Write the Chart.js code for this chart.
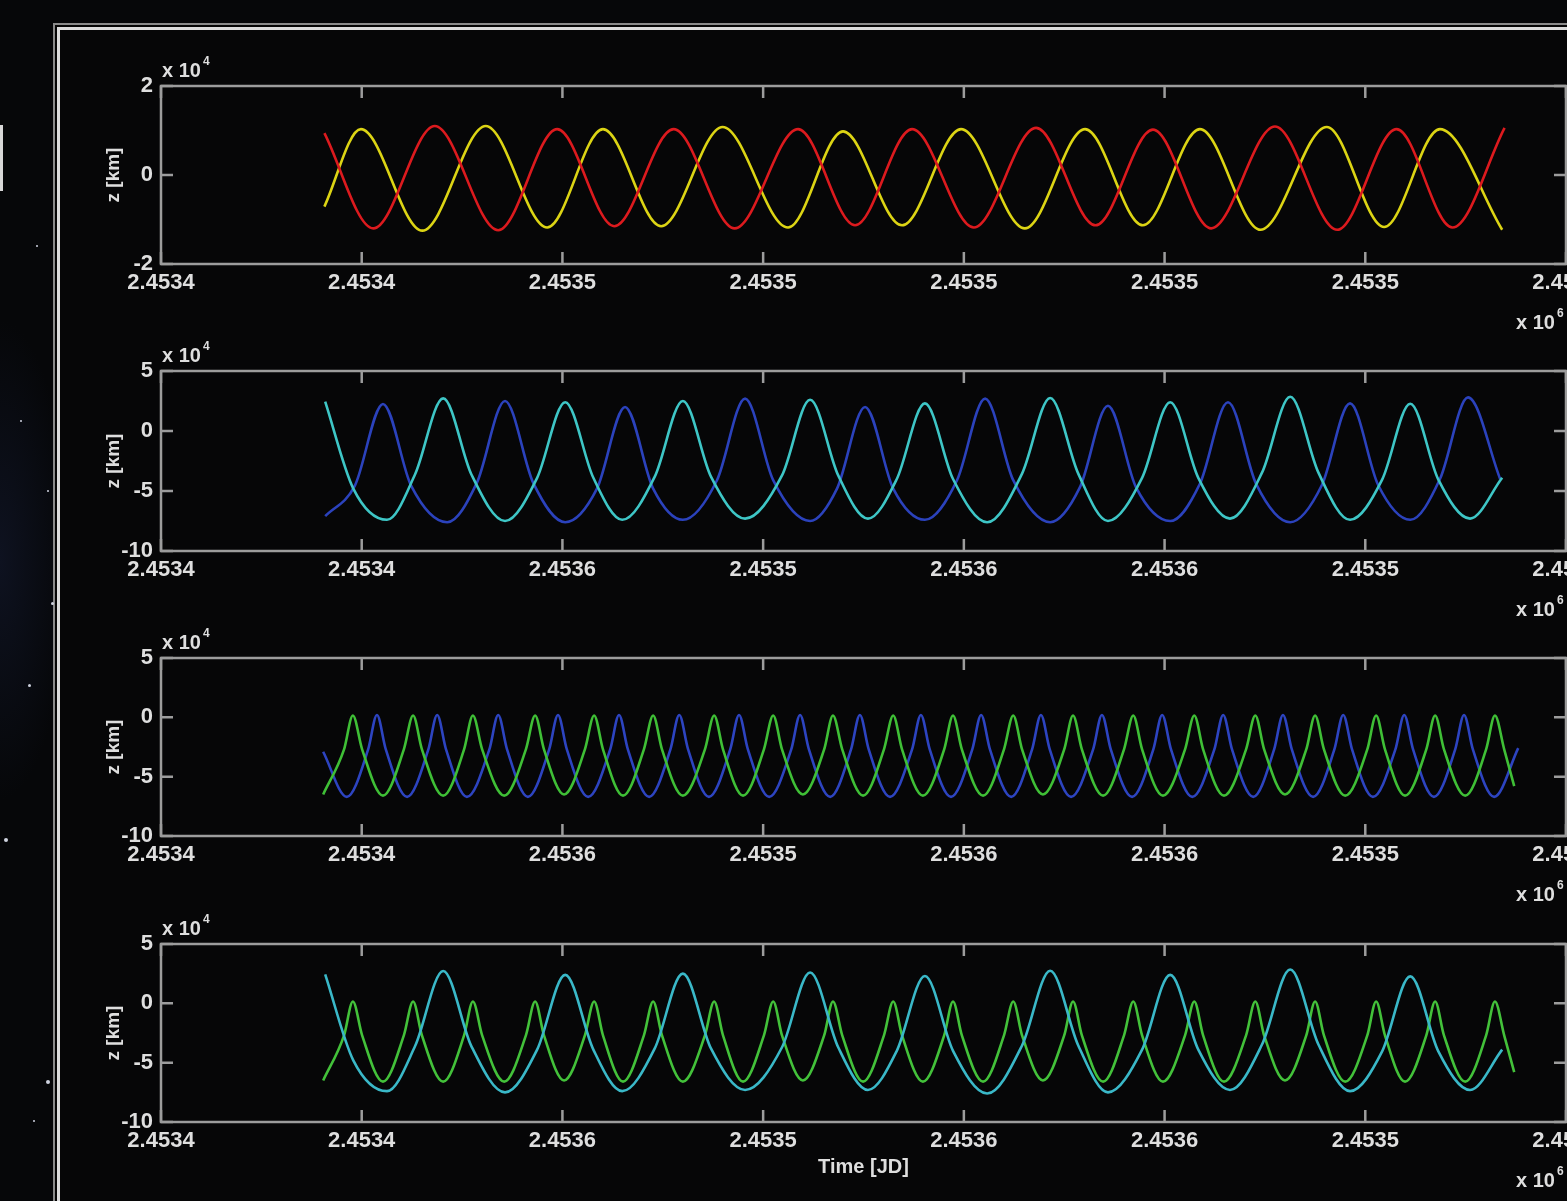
<!DOCTYPE html>
<html>
<head>
<meta charset="utf-8">
<script src="https://cdn.jsdelivr.net/npm/chart.js@4.4.0/dist/chart.umd.min.js"></script>
<style>
html, body { margin: 0; padding: 0; }
body {
    width: 1567px; height: 1201px; overflow: hidden; position: relative;
    background: radial-gradient(ellipse 70px 240px at 0px 560px, #0e1220 0%, #060709 100%);
    background-color: #060709;
    font-family: 'Liberation Sans', Arial, sans-serif;
}
.frame {
    position: absolute; left: 57px; top: 27px; width: 1620px; height: 1300px;
    border: 3px solid #dcdcdc; box-shadow: 0 0 0 2px #050505, 0 0 0 4px #8a8a8a;
    background: #060607;
}
.plot { position: absolute; left: 0; width: 1660px; }
.star { position: absolute; background: #cfd3e0; border-radius: 50%; }
.bar { position: absolute; left: 0; top: 125px; width: 3px; height: 66px; background: #d8d8d8; }
</style>
</head>
<body>
<div class="frame"></div>
<div class="bar"></div>
<div class="star" style="left:36px;top:245px;width:2px;height:2px"></div>
<div class="star" style="left:20px;top:420px;width:2px;height:2px"></div>
<div class="star" style="left:47px;top:490px;width:2px;height:2px"></div>
<div class="star" style="left:51px;top:602px;width:3px;height:3px"></div>
<div class="star" style="left:28px;top:684px;width:3px;height:3px"></div>
<div class="star" style="left:4px;top:838px;width:4px;height:4px"></div>
<div class="star" style="left:46px;top:1080px;width:4px;height:4px"></div>
<div class="star" style="left:33px;top:1120px;width:2px;height:2px"></div>

<script>
// Time axis: days after JD0
const JD0 = 2453400;
const xLabelsTop = ['2.4534', '2.4534', '2.4535', '2.4535', '2.4535', '2.4535', '2.4535', '2.4535'];
const xLabelsLow = ['2.4534', '2.4534', '2.4536', '2.4535', '2.4536', '2.4536', '2.4535', '2.4536'];

// Panel 1: red / yellow
const redT = [40.7, 52.9, 68.2, 84.0, 98.7, 112.9, 127.7, 142.9, 158.7, 172.9, 187.1, 202.5, 218.0, 232.8, 247.1, 261.6, 277.5, 293.0, 307.8, 321.7, 334.7];
const redZ = [9400, -12000, 11000, -12400, 10300, -11500, 10300, -12000, 10300, -11300, 10300, -11800, 10600, -11300, 10200, -12000, 10900, -12300, 10300, -11800, 10600];
const yellowT = [40.7, 49.8, 65.1, 80.9, 96.2, 110.1, 124.6, 139.9, 156.2, 169.9, 184.6, 199.3, 215.2, 230.2, 244.6, 258.8, 273.9, 290.4, 304.7, 318.6, 334.1];
const yellowZ = [-7100, 10300, -12500, 11000, -11800, 10300, -11500, 10800, -11800, 9800, -11300, 10300, -12000, 10300, -11300, 10300, -12300, 10800, -11700, 10300, -12300];

// Panel 2 (and 4): cyan / blue
const cyanT = [40.9, 47.9, 56.3, 63.3, 70.3, 77.3, 85.7, 93.7, 100.7, 107.7, 114.9, 123.0, 130.0, 137.0, 145.5, 154.7, 161.7, 168.7, 176.1, 183.3, 190.3, 197.3, 205.8, 214.5, 221.5, 228.5, 235.9, 244.4, 251.4, 258.4, 266.3, 274.3, 281.3, 288.3, 296.2, 304.2, 311.2, 318.2, 326.1, 334.1];
const cyanZ = [24400, -48000, -74000, -36000, 27200, -36000, -75000, -39000, 24000, -39000, -74000, -38000, 25000, -38000, -73000, -37000, 26000, -37000, -73000, -40000, 23000, -40000, -76000, -35500, 27500, -35500, -75000, -39000, 24000, -39000, -73000, -34500, 28500, -34500, -74000, -40500, 22700, -40500, -73000, -39000];
const blue2T = [40.9, 48.3, 55.3, 62.3, 71.3, 78.7, 85.7, 92.7, 100.7, 108.6, 115.6, 122.6, 130.0, 138.5, 145.5, 152.5, 161.7, 168.4, 175.4, 182.4, 190.3, 198.3, 205.3, 212.3, 221.5, 228.9, 235.9, 242.9, 251.4, 258.8, 265.8, 272.8, 281.3, 289.2, 296.2, 303.2, 311.2, 318.6, 325.6, 333.6];
const blue2Z = [-71000, -45500, 22500, -45500, -76000, -43000, 25000, -43000, -76000, -48000, 20000, -48000, -74000, -41000, 27000, -41000, -75000, -48000, 20000, -48000, -74000, -41000, 27000, -41000, -76000, -47000, 21000, -47000, -75000, -44000, 24000, -44000, -76000, -45000, 23000, -45000, -74000, -40000, 28000, -40000];

// Panel 3 (and 4): green / blue
const greenT = [40.4,
    45.6, 47.8, 50.1, 55.3, 60.5, 62.8, 65.0, 70.3, 75.5, 77.7, 80.0, 85.5, 90.9, 93.2, 95.4, 100.4,
    105.6, 107.9, 110.1, 115.1, 120.3, 122.6, 124.8, 130.0, 135.5, 137.8, 140.0, 145.0, 150.2, 152.5, 154.7, 159.9,
    165.2, 167.4, 169.7, 174.9, 180.1, 182.4, 184.6, 189.8, 195.1, 197.3, 199.5, 204.8, 210.0, 212.3, 214.5, 219.7,
    225.0, 227.2, 229.4, 234.7, 239.9, 242.2, 244.4, 249.6, 255.1, 257.4, 259.6, 264.8, 270.3, 272.6, 274.8, 280.0,
    285.3, 287.5, 289.7, 295.0, 300.5, 302.7, 304.9, 309.9, 315.2, 317.4, 319.6, 324.9, 330.1, 332.3, 334.6,
    337.1];
const greenZ = [-65000,
    -27000, 1500, -27000, -66000, -27000, 1500, -27000, -66000, -27000, 1500, -27000, -66000, -27000, 1500, -27000, -65000,
    -27000, 1500, -27000, -66000, -27000, 1500, -27000, -66000, -27000, 1500, -27000, -66000, -27000, 1500, -27000, -65000,
    -27000, 1500, -27000, -66000, -27000, 1500, -27000, -66000, -27000, 1500, -27000, -66000, -27000, 1500, -27000, -65000,
    -27000, 1500, -27000, -66000, -27000, 1500, -27000, -66000, -27000, 1500, -27000, -66000, -27000, 1500, -27000, -65000,
    -27000, 1500, -27000, -66000, -27000, 1500, -27000, -66000, -27000, 1500, -27000, -66000, -27000, 1500, -27000,
    -58000];
const blue3T = [40.4, 46.3,
    51.6, 53.8, 56.0, 61.3, 66.6, 68.8, 71.0, 76.2, 81.8, 84.0, 86.2, 91.4, 96.7, 98.9, 101.1, 106.4,
    111.9, 114.1, 116.3, 121.6, 126.9, 129.1, 131.3, 136.5, 141.8, 144.0, 146.2, 151.5, 157.0, 159.2, 161.4, 166.7,
    171.9, 174.1, 176.3, 181.6, 187.1, 189.3, 191.5, 196.8, 202.1, 204.3, 206.5, 211.8, 217.0, 219.2, 221.4, 226.7,
    232.2, 234.4, 236.6, 241.9, 247.2, 249.4, 251.6, 256.9, 262.4, 264.6, 266.8, 272.1, 277.3, 279.5, 281.7, 287.0,
    292.3, 294.5, 296.7, 301.9, 307.5, 309.7, 311.9, 317.1, 322.4, 324.6, 326.8, 332.1,
    338.1];
const blue3Z = [-29000, -67000,
    -27000, 2000, -27000, -67000, -27000, 2000, -27000, -67000, -27000, 2000, -27000, -67000, -27000, 2000, -27000, -67000,
    -27000, 2000, -27000, -67000, -27000, 2000, -27000, -67000, -27000, 2000, -27000, -67000, -27000, 2000, -27000, -67000,
    -27000, 2000, -27000, -67000, -27000, 2000, -27000, -67000, -27000, 2000, -27000, -67000, -27000, 2000, -27000, -67000,
    -27000, 2000, -27000, -67000, -27000, 2000, -27000, -67000, -27000, 2000, -27000, -67000, -27000, 2000, -27000, -67000,
    -27000, 2000, -27000, -67000, -27000, 2000, -27000, -67000, -27000, 2000, -27000, -67000,
    -26000];

function pts(t, z) {
    return t.map((d, i) => ({ x: JD0 + d, y: z[i] }));
}

function line(t, z, color) {
    return {
        data: pts(t, z), borderColor: color, borderWidth: 2.6,
        pointRadius: 0, cubicInterpolationMode: 'monotone', fill: false
    };
}

const labelColor = '#dedede';
const font = 'Liberation Sans';

// box, inward ticks and MATLAB-style exponent labels
const matlabAxes = {
    id: 'matlabAxes',
    afterDraw(chart) {
        const { ctx, chartArea: a, scales: { x, y } } = chart;
        ctx.save();
        ctx.strokeStyle = '#9c9c9c';
        ctx.lineWidth = 2.5;
        ctx.strokeRect(a.left, a.top, a.right - a.left, a.bottom - a.top);
        ctx.beginPath();
        x.ticks.forEach(t => {
            const px = x.getPixelForValue(t.value);
            ctx.moveTo(px, a.bottom); ctx.lineTo(px, a.bottom - 12);
            ctx.moveTo(px, a.top); ctx.lineTo(px, a.top + 12);
        });
        y.ticks.forEach(t => {
            const py = y.getPixelForValue(t.value);
            ctx.moveTo(a.left, py); ctx.lineTo(a.left + 12, py);
            ctx.moveTo(a.right, py); ctx.lineTo(a.right - 12, py);
        });
        ctx.stroke();

        ctx.fillStyle = labelColor;
        ctx.textBaseline = 'middle';
        ctx.textAlign = 'left';
        ctx.font = 'bold 20px "' + font + '"';
        const w = ctx.measureText('x 10').width;
        ctx.fillText('x 10', a.left + 1, a.top - 15);
        ctx.fillText('x 10', 1516, a.bottom + 59);
        ctx.font = 'bold 12px "' + font + '"';
        ctx.fillText('4', a.left + 3 + w, a.top - 24);
        ctx.fillText('6', 1518 + w, a.bottom + 50);
        ctx.restore();
    }
};

function makePanel(top, bottom, datasets, yMin, yMax, yStep, xLabels, xTitle) {
    const h = 60 + (bottom - top) + 72;
    const box = document.createElement('div');
    box.className = 'plot';
    box.style.top = (top - 60) + 'px';
    box.style.height = h + 'px';
    const canvas = document.createElement('canvas');
    box.appendChild(canvas);
    document.body.appendChild(box);

    return new Chart(canvas.getContext('2d'), {
        type: 'line',
        data: { datasets: datasets },
        options: {
            responsive: true,
            maintainAspectRatio: false,
            animation: false,
            layout: { padding: { left: 98, right: 94, top: 60, bottom: 0 } },
            plugins: { legend: { display: false }, tooltip: { enabled: false } },
            scales: {
                x: {
                    type: 'linear', min: JD0, max: JD0 + 350,
                    grid: { display: false, drawTicks: false }, border: { display: false },
                    ticks: {
                        stepSize: 50, autoSkip: false, maxRotation: 0, padding: 6,
                        color: labelColor, font: { family: font, size: 22, weight: 'bold' },
                        callback: (v, i) => xLabels[i]
                    },
                    title: {
                        display: !!xTitle, text: xTitle || '', color: labelColor,
                        font: { family: font, size: 20, weight: 'bold' }, padding: { top: 0, bottom: 15 }
                    },
                    afterFit(s) { s.height = 72; }
                },
                y: {
                    min: yMin, max: yMax,
                    grid: { display: false, drawTicks: false }, border: { display: false },
                    ticks: {
                        stepSize: yStep, padding: 8,
                        color: labelColor, font: { family: font, size: 22, weight: 'bold' },
                        callback: v => String(v / 10000)
                    },
                    title: {
                        display: true, text: 'z [km]', color: labelColor,
                        font: { family: font, size: 19, weight: 'bold' }, padding: { top: 4, bottom: 0 }
                    },
                    afterFit(s) { s.width = 63; }
                }
            }
        },
        plugins: [matlabAxes]
    });
}

makePanel(86, 264, [
    line(redT, redZ, '#dc1a1e'),
    line(yellowT, yellowZ, '#dcd414')
], -20000, 20000, 20000, xLabelsTop);

makePanel(371, 551, [
    line(cyanT, cyanZ, '#3ec6c6'),
    line(blue2T, blue2Z, '#2b42bc')
], -100000, 50000, 50000, xLabelsLow);

makePanel(658, 836, [
    line(greenT, greenZ, '#3fbf36'),
    line(blue3T, blue3Z, '#2d44c0')
], -100000, 50000, 50000, xLabelsLow);

makePanel(944, 1122, [
    line(cyanT, cyanZ, '#3ab8c8'),
    line(greenT, greenZ, '#43c13a')
], -100000, 50000, 50000, xLabelsLow, 'Time [JD]');
</script>
</body>
</html>
